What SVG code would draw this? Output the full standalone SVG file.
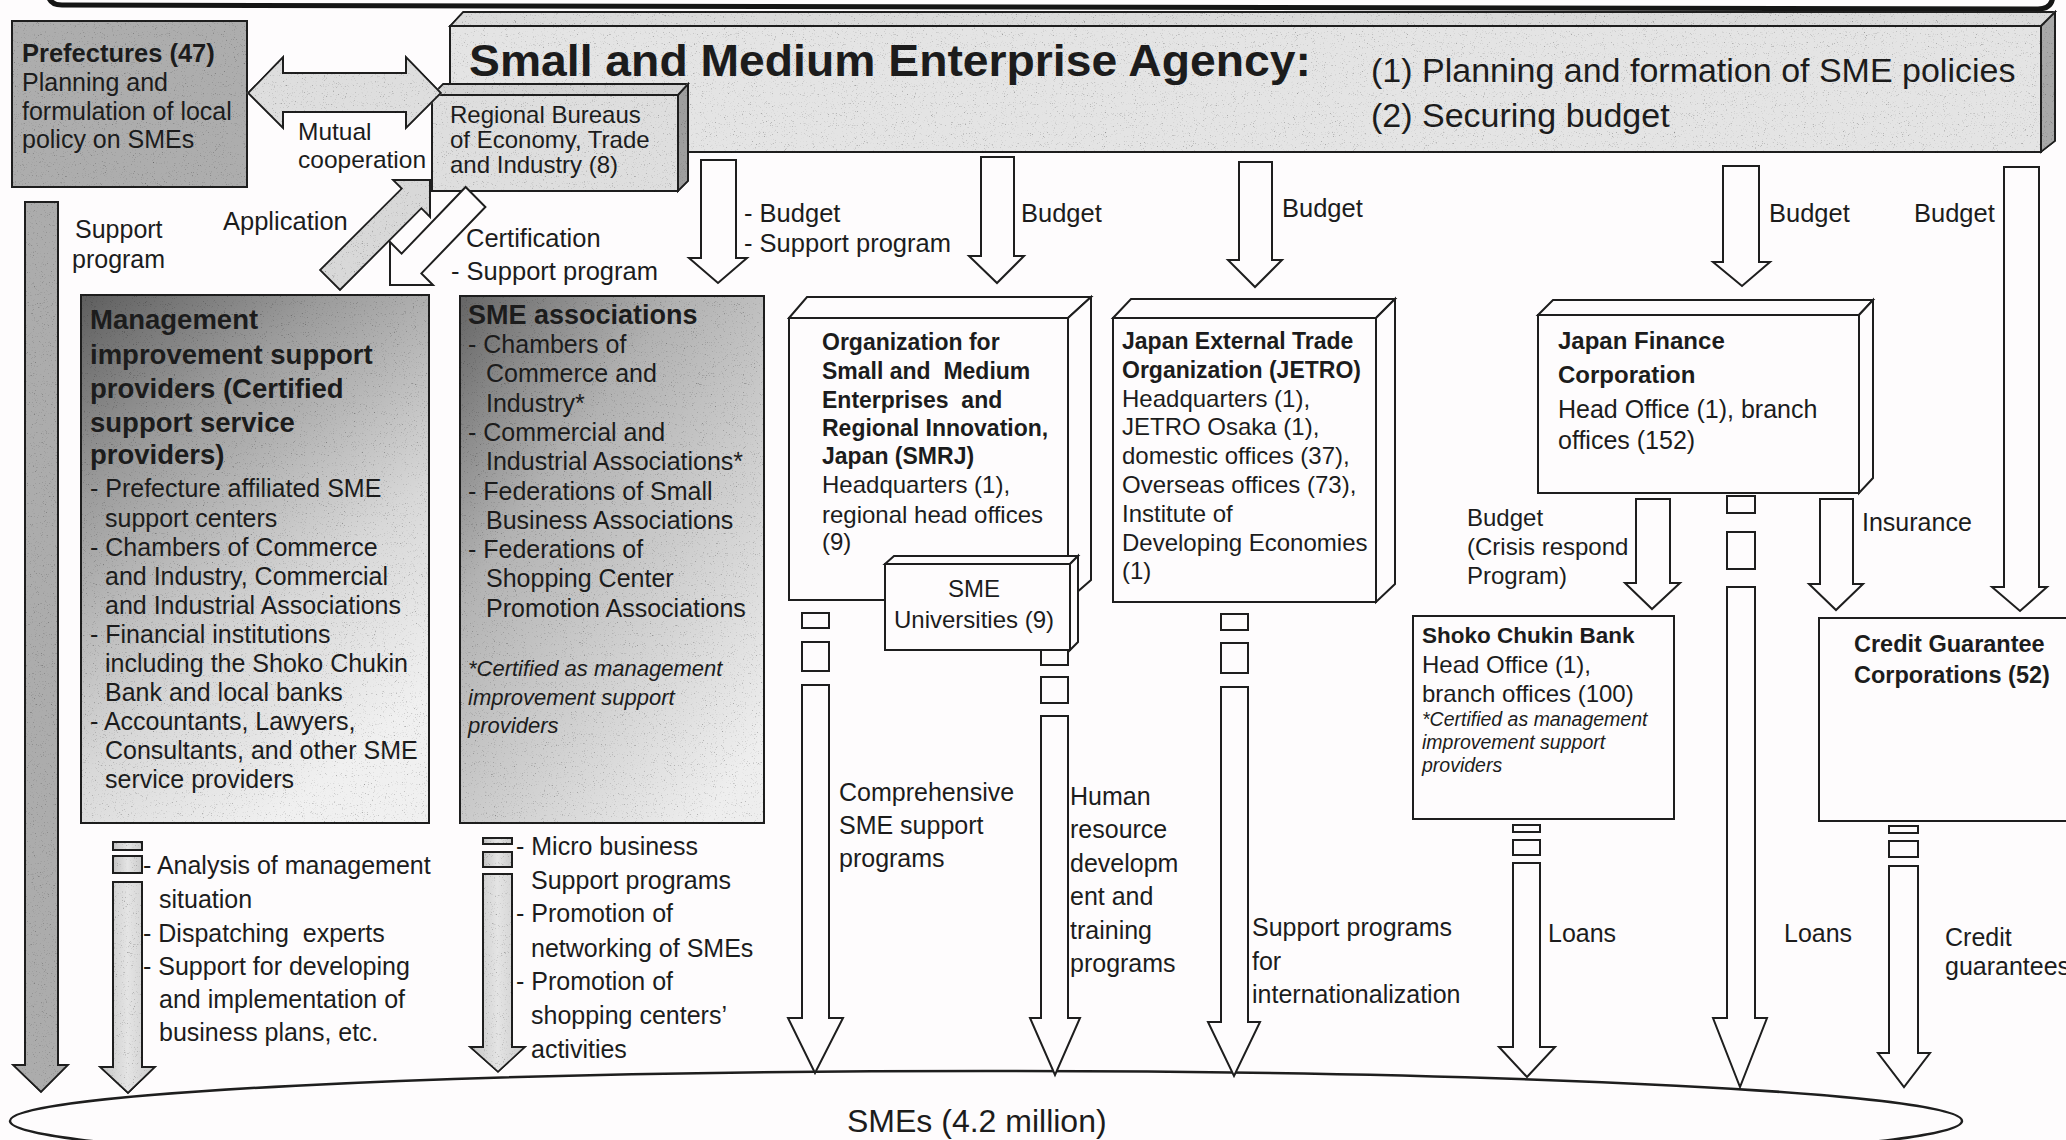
<svg xmlns="http://www.w3.org/2000/svg" width="2066" height="1140" viewBox="0 0 2066 1140">
<defs>
<style>
.t{font-family:"Liberation Sans",Arial,sans-serif;fill:#1c1c1c;font-size:25px}
.b{font-weight:bold}
.i{font-style:italic}
.pre{white-space:pre}
.ln{stroke:#1e1e1e;stroke-width:2;stroke-linejoin:miter}
.wh{fill:#fefcfd}
</style>
<filter id="grain" filterUnits="userSpaceOnUse" x="0" y="0" width="2066" height="1140" color-interpolation-filters="sRGB">
<feTurbulence type="fractalNoise" baseFrequency="0.9" numOctaves="2" seed="4" result="n"/>
<feColorMatrix in="n" type="matrix" values="0.5 0.5 0.5 0 0.36  0.5 0.5 0.5 0 0.36  0.5 0.5 0.5 0 0.36  0 0 0 0 1" result="g"/>
<feBlend in="SourceGraphic" in2="g" mode="multiply" result="m"/>
<feComposite in="m" in2="SourceGraphic" operator="in"/>
</filter>
<linearGradient id="gMgmt" x1="0" y1="0" x2="0.55" y2="1">
<stop offset="0" stop-color="#5e5e5e"/>
<stop offset="0.3" stop-color="#9c9c9c"/>
<stop offset="0.7" stop-color="#d8d8d8"/>
<stop offset="1" stop-color="#f0f0f0"/>
</linearGradient>
<linearGradient id="gAssoc" x1="0" y1="0" x2="0.8" y2="1">
<stop offset="0" stop-color="#656565"/>
<stop offset="0.35" stop-color="#b2b2b2"/>
<stop offset="1" stop-color="#eeeeee"/>
</linearGradient>
<linearGradient id="gArrow" x1="0" y1="0" x2="1" y2="0">
<stop offset="0" stop-color="#c4c4c4"/>
<stop offset="0.5" stop-color="#e4e4e4"/>
<stop offset="1" stop-color="#cbcbcb"/>
</linearGradient>
</defs>

<rect x="0" y="0" width="2066" height="1140" fill="#fefcfd"/>

<g id="top-frame">
<path d="M48 -20 L48 -8 Q48 5 62 5 L2038 9 Q2053 9 2053 -6 L2053 -20" fill="none" stroke="#151515" stroke-width="5"/>
</g>

<g id="smes">
<ellipse cx="986" cy="1121" rx="976" ry="50" fill="none" stroke="#1e1e1e" stroke-width="2.5"/>
<text class="t" x="847" y="1132" style="font-size:32px">SMEs (4.2 million)</text>
</g>

<g id="agency">
<polygon points="450,26 463,12 2055,12 2041,26" fill="#dadada" class="ln" filter="url(#grain)"/>
<polygon points="2041,26 2055,12 2055,141 2041,152" fill="#a8a8a8" class="ln" filter="url(#grain)"/>
<rect x="450" y="26" width="1591" height="126" fill="#e4e4e4" class="ln" filter="url(#grain)"/>
<text class="t b" x="469" y="76" style="font-size:44px" textLength="842" lengthAdjust="spacingAndGlyphs">Small and Medium Enterprise Agency:</text>
<text class="t" x="1371" y="82" style="font-size:34px">(1) Planning and formation of SME policies</text>
<text class="t" x="1371" y="127" style="font-size:34px">(2) Securing budget</text>
</g>

<g id="regional-bureaus">
<polygon points="432,95 443,84 688,84 678,95" fill="#d4d4d4" class="ln" filter="url(#grain)"/>
<polygon points="678,95 688,84 688,181 678,191" fill="#9e9e9e" class="ln" filter="url(#grain)"/>
<rect x="432" y="95" width="246" height="96" fill="#dedede" class="ln" filter="url(#grain)"/>
<text class="t" style="font-size:24px"><tspan x="450" y="123">Regional Bureaus</tspan><tspan x="450" y="148">of Economy, Trade</tspan><tspan x="450" y="173">and Industry (8)</tspan></text>
</g>

<g id="prefectures">
<rect x="12" y="21" width="235" height="166" fill="#adadad" class="ln" filter="url(#grain)"/>
<text class="t b" x="22" y="62" style="font-size:25.5px">Prefectures (47)</text>
<text class="t"><tspan x="22" y="91">Planning and</tspan><tspan x="22" y="120">formulation of local</tspan><tspan x="22" y="148">policy on SMEs</tspan></text>
</g>

<g id="management-providers">
<rect x="81" y="295" width="348" height="528" fill="url(#gMgmt)" class="ln" filter="url(#grain)"/>
<text class="t b" style="font-size:27.5px"><tspan x="90" y="329">Management</tspan><tspan x="90" y="364">improvement support</tspan><tspan x="90" y="398">providers (Certified</tspan><tspan x="90" y="432">support service</tspan><tspan x="90" y="464">providers)</tspan></text>
<text class="t"><tspan x="90" y="497">- Prefecture affiliated SME</tspan><tspan x="105" y="527">support centers</tspan><tspan x="90" y="556">- Chambers of Commerce</tspan><tspan x="105" y="585">and Industry, Commercial</tspan><tspan x="105" y="614">and Industrial Associations</tspan><tspan x="90" y="643">- Financial institutions</tspan><tspan x="105" y="672">including the Shoko Chukin</tspan><tspan x="105" y="701">Bank and local banks</tspan><tspan x="90" y="730">- Accountants, Lawyers,</tspan><tspan x="105" y="759">Consultants, and other SME</tspan><tspan x="105" y="788">service providers</tspan></text>
</g>

<g id="sme-associations">
<rect x="460" y="296" width="304" height="527" fill="url(#gAssoc)" class="ln" filter="url(#grain)"/>
<text class="t b" x="468" y="324" style="font-size:27px">SME associations</text>
<text class="t"><tspan x="468" y="353">- Chambers of</tspan><tspan x="486" y="382">Commerce and</tspan><tspan x="486" y="412">Industry*</tspan><tspan x="468" y="441">- Commercial and</tspan><tspan x="486" y="470">Industrial Associations*</tspan><tspan x="468" y="500">- Federations of Small</tspan><tspan x="486" y="529">Business Associations</tspan><tspan x="468" y="558">- Federations of</tspan><tspan x="486" y="587">Shopping Center</tspan><tspan x="486" y="617">Promotion Associations</tspan></text>
<text class="t i" style="font-size:22px"><tspan x="468" y="676">*Certified as management</tspan><tspan x="468" y="705">improvement support</tspan><tspan x="468" y="733">providers</tspan></text>
</g>

<g id="smrj">
<polygon points="789,318 807,297 1091,297 1068,318" class="wh ln"/>
<polygon points="1068,318 1091,297 1091,580 1068,600" class="wh ln"/>
<rect x="789" y="318" width="279" height="282" class="wh ln"/>
<text class="t b pre" style="font-size:23px"><tspan x="822" y="350">Organization for</tspan><tspan x="822" y="379">Small and  Medium</tspan><tspan x="822" y="408">Enterprises  and</tspan><tspan x="822" y="436">Regional Innovation,</tspan><tspan x="822" y="464">Japan (SMRJ)</tspan></text>
<text class="t" style="font-size:24px"><tspan x="822" y="493">Headquarters (1),</tspan><tspan x="822" y="523">regional head offices</tspan><tspan x="822" y="550">(9)</tspan></text>
</g>

<g id="jetro">
<polygon points="1113,318 1131,299 1395,299 1376,318" class="wh ln"/>
<polygon points="1376,318 1395,299 1395,584 1376,602" class="wh ln"/>
<rect x="1113" y="318" width="263" height="284" class="wh ln"/>
<text class="t b" style="font-size:23px"><tspan x="1122" y="349">Japan External Trade</tspan><tspan x="1122" y="378">Organization (JETRO)</tspan></text>
<text class="t" style="font-size:24px"><tspan x="1122" y="407">Headquarters (1),</tspan><tspan x="1122" y="435">JETRO Osaka (1),</tspan><tspan x="1122" y="464">domestic offices (37),</tspan><tspan x="1122" y="493">Overseas offices (73),</tspan><tspan x="1122" y="522">Institute of</tspan><tspan x="1122" y="551">Developing Economies</tspan><tspan x="1122" y="579">(1)</tspan></text>
</g>

<g id="jfc">
<polygon points="1538,315 1553,300 1873,300 1859,315" class="wh ln"/>
<polygon points="1859,315 1873,300 1873,478 1859,493" class="wh ln"/>
<rect x="1538" y="315" width="321" height="178" class="wh ln"/>
<text class="t b" style="font-size:24px"><tspan x="1558" y="349">Japan Finance</tspan><tspan x="1558" y="383">Corporation</tspan></text>
<text class="t"><tspan x="1558" y="418">Head Office (1), branch</tspan><tspan x="1558" y="449">offices (152)</tspan></text>
</g>

<g id="shoko-chukin">
<rect x="1413" y="616" width="261" height="203" class="wh ln"/>
<text class="t b" x="1422" y="643" style="font-size:22.5px">Shoko Chukin Bank</text>
<text class="t" style="font-size:24px"><tspan x="1422" y="673">Head Office (1),</tspan><tspan x="1422" y="702">branch offices (100)</tspan></text>
<text class="t i" style="font-size:19.5px"><tspan x="1422" y="726">*Certified as management</tspan><tspan x="1422" y="749">improvement support</tspan><tspan x="1422" y="772">providers</tspan></text>
</g>

<g id="credit-guarantee">
<rect x="1819" y="618" width="260" height="203" class="wh ln"/>
<text class="t b" style="font-size:23.5px"><tspan x="1854" y="652">Credit Guarantee</tspan><tspan x="1854" y="683">Corporations (52)</tspan></text>
</g>

<g id="connectors">
<polygon points="248,93 283,57 283,73 406,73 406,57 441,93 406,128 406,112 283,112 283,128" fill="#dedede" class="ln" filter="url(#grain)"/>
<polygon points="430,180 393,180 401.6,188.6 320,270 340,290 421.4,208.4 430,217" fill="#d8d8d8" class="ln" filter="url(#grain)"/>
<polygon points="390,285 433,285 421.4,273.4 485.4,207 465.6,187 401.6,253.6 390,242" class="wh ln"/>
<polygon points="25,202 58,202 58,1065 68,1065 41,1092 13,1065 25,1065" fill="#acacac" class="ln" filter="url(#grain)"/>

<polygon points="701,160 736,160 736,258 747,258 718,283 689,258 701,258" class="wh ln"/>
<polygon points="981,157 1014,157 1014,256 1024,256 997,283 969,256 981,256" class="wh ln"/>
<polygon points="1239,162 1272,162 1272,260 1282,260 1255,287 1228,260 1239,260" class="wh ln"/>
<polygon points="1723,166 1759,166 1759,262 1770,262 1742,286 1713,262 1723,262" class="wh ln"/>
<polygon points="2004,167 2039,167 2039,587 2047,587 2020,611 1992,587 2004,587" class="wh ln"/>
<polygon points="1636,499 1670,499 1670,583 1680,583 1652,609 1625,583 1636,583" class="wh ln"/>
<polygon points="1820,499 1853,499 1853,584 1863,584 1836,610 1809,584 1820,584" class="wh ln"/>

<g fill="url(#gArrow)" filter="url(#grain)">
<rect x="113" y="842" width="29" height="8" class="ln"/>
<rect x="113" y="856" width="29" height="17" class="ln"/>
<polygon points="113,882 142,882 142,1067 155,1067 128,1093 100,1067 113,1067" class="ln"/>
<rect x="483" y="838" width="29" height="6" class="ln"/>
<rect x="483" y="852" width="29" height="15" class="ln"/>
<polygon points="483,874 512,874 512,1047 525,1047 498,1072 470,1047 483,1047" class="ln"/>
</g>

<g class="wh">
<rect x="802" y="613" width="27" height="15" class="ln"/>
<rect x="802" y="642" width="27" height="29" class="ln"/>
<polygon points="802,685 829,685 829,1018 843,1018 815,1073 788,1018 802,1018" class="ln"/>
<rect x="1041" y="650" width="27" height="15" class="ln"/>
<rect x="1041" y="677" width="27" height="26" class="ln"/>
<polygon points="1041,716 1068,716 1068,1018 1080,1018 1055,1075 1030,1018 1041,1018" class="ln"/>
<rect x="1221" y="614" width="27" height="16" class="ln"/>
<rect x="1221" y="643" width="27" height="30" class="ln"/>
<polygon points="1221,687 1248,687 1248,1022 1260,1022 1234,1076 1208,1022 1221,1022" class="ln"/>
<rect x="1727" y="496" width="28" height="17" class="ln"/>
<rect x="1727" y="532" width="28" height="37" class="ln"/>
<polygon points="1727,587 1755,587 1755,1018 1767,1018 1740,1087 1713,1018 1727,1018" class="ln"/>
<rect x="1513" y="825" width="27" height="7" class="ln"/>
<rect x="1513" y="840" width="27" height="15" class="ln"/>
<polygon points="1513,863 1540,863 1540,1047 1555,1047 1527,1077 1499,1047 1513,1047" class="ln"/>
<rect x="1889" y="826" width="29" height="7" class="ln"/>
<rect x="1889" y="841" width="29" height="16" class="ln"/>
<polygon points="1889,866 1918,866 1918,1053 1930,1053 1904,1087 1878,1053 1889,1053" class="ln"/>
</g>

<g id="connector-labels">
<text class="t" style="font-size:24.5px"><tspan x="298" y="140">Mutual</tspan><tspan x="298" y="168">cooperation</tspan></text>
<text class="t" x="223" y="230" style="font-size:25.5px">Application</text>
<text class="t"><tspan x="75" y="238">Support</tspan><tspan x="72" y="268">program</tspan></text>
<text class="t" style="font-size:25.5px"><tspan x="466" y="247">Certification</tspan><tspan x="451" y="280">- Support program</tspan></text>
<text class="t" style="font-size:25.5px"><tspan x="744" y="222">- Budget</tspan><tspan x="744" y="252">- Support program</tspan></text>
<text class="t" x="1021" y="222" style="font-size:25.5px">Budget</text>
<text class="t" x="1282" y="217" style="font-size:25.5px">Budget</text>
<text class="t" x="1769" y="222" style="font-size:25.5px">Budget</text>
<text class="t" x="1914" y="222" style="font-size:25.5px">Budget</text>
<text class="t" style="font-size:24px"><tspan x="1467" y="526">Budget</tspan><tspan x="1467" y="555">(Crisis respond</tspan><tspan x="1467" y="584">Program)</tspan></text>
<text class="t" x="1862" y="531">Insurance</text>
<text class="t pre"><tspan x="143" y="874">- Analysis of management</tspan><tspan x="159" y="908">situation</tspan><tspan x="143" y="942">- Dispatching  experts</tspan><tspan x="143" y="975">- Support for developing</tspan><tspan x="159" y="1008">and implementation of</tspan><tspan x="159" y="1041">business plans, etc.</tspan></text>
<text class="t"><tspan x="516" y="855">- Micro business</tspan><tspan x="531" y="889">Support programs</tspan><tspan x="516" y="922">- Promotion of</tspan><tspan x="531" y="957">networking of SMEs</tspan><tspan x="516" y="990">- Promotion of</tspan><tspan x="531" y="1024">shopping centers&#8217;</tspan><tspan x="531" y="1058">activities</tspan></text>
<text class="t"><tspan x="839" y="801">Comprehensive</tspan><tspan x="839" y="834">SME support</tspan><tspan x="839" y="867">programs</tspan></text>
<text class="t"><tspan x="1070" y="805">Human</tspan><tspan x="1070" y="838">resource</tspan><tspan x="1070" y="872">developm</tspan><tspan x="1070" y="905">ent and</tspan><tspan x="1070" y="939">training</tspan><tspan x="1070" y="972">programs</tspan></text>
<text class="t"><tspan x="1252" y="936">Support programs</tspan><tspan x="1252" y="970">for</tspan><tspan x="1252" y="1003">internationalization</tspan></text>
<text class="t" x="1548" y="942">Loans</text>
<text class="t" x="1784" y="942">Loans</text>
<text class="t"><tspan x="1945" y="946">Credit</tspan><tspan x="1945" y="975">guarantees</tspan></text>
</g>
</g>

<g id="sme-universities">
<polygon points="885,564 894,556 1078,556 1070,564" class="wh ln"/>
<polygon points="1070,564 1078,556 1078,642 1070,650" class="wh ln"/>
<rect x="885" y="564" width="185" height="86" class="wh ln"/>
<text class="t" style="font-size:24px" text-anchor="middle"><tspan x="974" y="597">SME</tspan><tspan x="974" y="628">Universities (9)</tspan></text>
</g>
</svg>
